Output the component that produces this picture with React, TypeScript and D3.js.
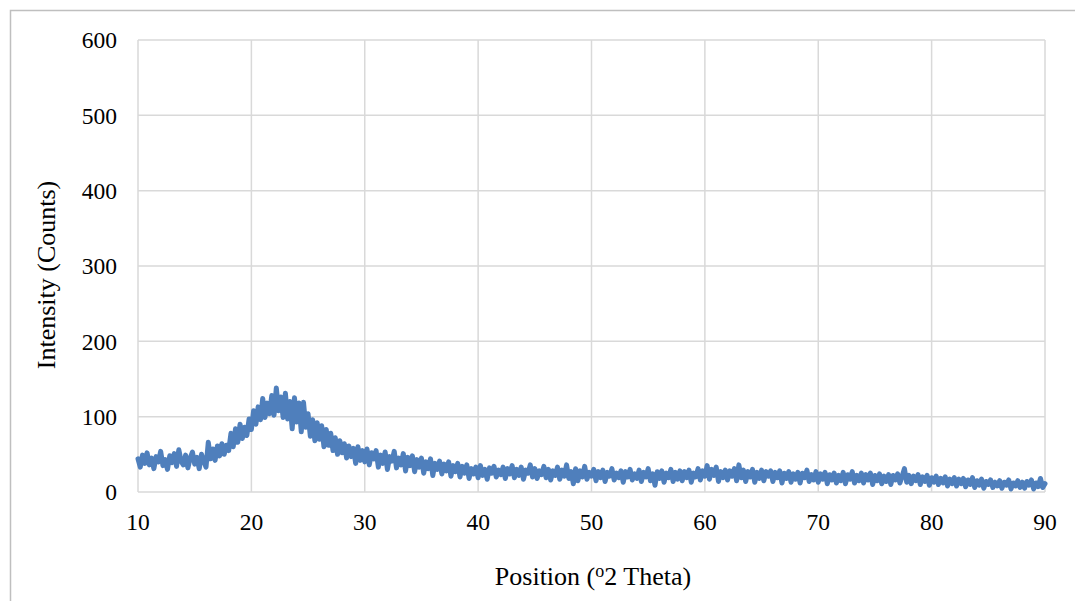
import * as d3 from "d3";

// XRD scan: 10° to 90° 2θ, one reading every 0.2°
const startAngle = 10;
const stepAngle = 0.2;

const counts: number[] = [
  44, 33, 49, 38, 52, 36, 45, 31, 47, 40, 54, 35, 43, 30, 48, 39, 51, 34, 56, 41,
  36, 49, 32, 45, 53, 37, 46, 31, 50, 41, 33, 66, 44, 57, 42, 61, 48, 64, 50, 62,
  55, 78, 60, 84, 66, 90, 71, 86, 75, 97, 83, 108, 90, 113, 96, 124, 99, 118, 104, 128,
  102, 138, 108, 126, 99, 131, 97, 120, 84, 125, 93, 118, 80, 119, 86, 104, 74, 96, 68, 92,
  70, 88, 60, 83, 62, 78, 55, 72, 50, 68, 52, 64, 45, 61, 47, 58, 38, 60, 42, 55,
  40, 57, 36, 52, 44, 55, 33, 49, 38, 53, 30, 47, 41, 54, 32, 45, 36, 51, 28, 46,
  35, 48, 27, 43, 33, 45, 25, 40, 31, 44, 22, 38, 30, 41, 24, 37, 28, 40, 21, 35,
  27, 38, 20, 34, 25, 36, 18, 31, 24, 33, 19, 35, 22, 30, 17, 32, 25, 34, 20, 29,
  23, 33, 18, 31, 24, 35, 19, 30, 22, 33, 17, 29, 25, 36, 20, 31, 18, 28, 23, 34,
  19, 30, 16, 28, 22, 33, 17, 29, 21, 36, 18, 27, 11, 31, 15, 28, 20, 34, 17, 26,
  21, 30, 15, 27, 19, 29, 14, 26, 21, 31, 16, 25, 19, 28, 13, 27, 20, 30, 16, 24,
  18, 29, 14, 26, 20, 31, 15, 24, 9, 27, 18, 28, 13, 25, 19, 30, 14, 26, 17, 28,
  15, 27, 19, 29, 13, 25, 20, 31, 16, 28, 21, 35, 17, 30, 22, 33, 14, 27, 19, 29,
  16, 28, 21, 31, 15, 36, 19, 29, 14, 27, 20, 30, 13, 26, 18, 29, 15, 27, 21, 28,
  14, 26, 19, 28, 12, 25, 18, 27, 13, 24, 17, 26, 12, 25, 19, 29, 14, 23, 16, 27,
  13, 24, 17, 26, 11, 23, 16, 25, 12, 22, 15, 26, 11, 23, 17, 27, 12, 22, 15, 25,
  12, 23, 16, 25, 10, 22, 15, 24, 11, 21, 14, 23, 10, 22, 16, 24, 12, 21, 31, 13,
  22, 11, 21, 15, 23, 10, 20, 14, 22, 9, 19, 13, 21, 10, 18, 12, 20, 8, 17, 11,
  19, 8, 17, 11, 18, 7, 16, 10, 19, 6, 15, 9, 17, 5, 14, 10, 16, 6, 13, 8,
  15, 5, 13, 9, 16, 4, 12, 8, 15, 6, 13, 5, 14, 9, 16, 4, 12, 7, 18, 6,
  11,
];

const xTicks = [10, 20, 30, 40, 50, 60, 70, 80, 90];
const yTicks = [0, 100, 200, 300, 400, 500, 600];

const xTitle = "Position (";
const xTitleSup = "o";
const xTitleEnd = "2 Theta)";
const yTitle = "Intensity (Counts)";

const width = 1075;
const height = 601;
const font = "'Liberation Serif', 'Times New Roman', serif";

export default function App() {
  const x = d3.scaleLinear().domain([10, 90]).range([138, 1045]);
  const y = d3.scaleLinear().domain([0, 600]).range([492, 40]);

  const points: [number, number][] = counts.map((c, i) => [startAngle + i * stepAngle, c]);
  const line = d3
    .line<[number, number]>()
    .x((d) => x(d[0]))
    .y((d) => y(d[1]));

  return (
    <svg
      width={width}
      height={height}
      style={{ position: "absolute", left: 0, top: 0, background: "#fff" }}
      fontFamily={font}
    >
      {/* chart frame */}
      <path d={`M10.5,${height} V10.5 H${width}`} fill="none" stroke="#bfbfbf" strokeWidth={1.5} />

      {/* grid */}
      {yTicks.map((t) => (
        <line key={"gy" + t} x1={x(10)} x2={x(90)} y1={y(t)} y2={y(t)} stroke="#d9d9d9" strokeWidth={1.5} />
      ))}
      {xTicks.map((t) => (
        <line key={"gx" + t} x1={x(t)} x2={x(t)} y1={y(0)} y2={y(600)} stroke="#d9d9d9" strokeWidth={1.5} />
      ))}

      {/* series */}
      <path
        d={line(points) ?? ""}
        fill="none"
        stroke="#4f7fbc"
        strokeWidth={5}
        strokeLinejoin="round"
        strokeLinecap="round"
      />

      {/* tick labels */}
      {yTicks.map((t) => (
        <text key={"ly" + t} x={117} y={y(t)} dy="0.35em" textAnchor="end" fontSize={23.5} fill="#000">
          {t}
        </text>
      ))}
      {xTicks.map((t) => (
        <text key={"lx" + t} x={x(t)} y={522} dy="0.35em" textAnchor="middle" fontSize={23.5} fill="#000">
          {t}
        </text>
      ))}

      {/* axis titles */}
      <text x={593} y={585} textAnchor="middle" fontSize={26} fill="#000">
        {xTitle}
        <tspan fontSize={18} dy={-8}>{xTitleSup}</tspan>
        <tspan dy={8}>{xTitleEnd}</tspan>
      </text>
      <text
        transform={`translate(55,275) rotate(-90)`}
        textAnchor="middle"
        fontSize={26}
        fill="#000"
      >
        {yTitle}
      </text>
    </svg>
  );
}
